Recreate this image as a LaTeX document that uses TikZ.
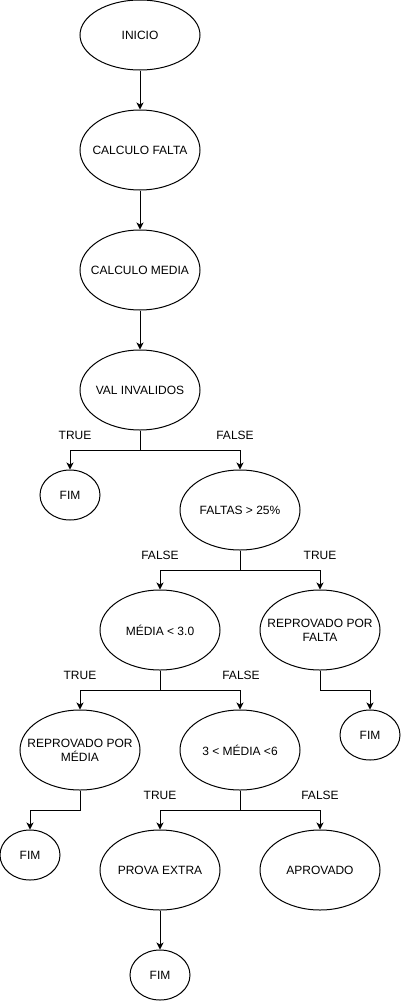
\documentclass[tikz,border=0pt]{standalone}
\usepackage{fontspec}
\setmainfont{Liberation Sans}
\usetikzlibrary{shapes.geometric,arrows.meta}
\begin{document}
\begin{tikzpicture}[x=1pt,y=-1pt,
  every node/.style={font=\fontsize{12}{14}\selectfont},
  proc/.style={ellipse,draw,line width=1pt,inner xsep=-16pt,inner ysep=0pt,minimum width=120pt,minimum height=80pt,align=center},
  endnode/.style={ellipse,draw,line width=1pt,inner sep=0pt,minimum width=60pt,minimum height=50pt,align=center},
  lbl/.style={inner sep=0pt,anchor=center},
  conn/.style={line width=1pt,-{Stealth[length=7pt,width=7pt,inset=2pt]}},
  plain/.style={line width=1pt}]
\useasboundingbox (0,0) rectangle (401,1001);
\node[proc,minimum height=70pt] (ini) at (140,35) {INICIO};
\node[proc] (cf) at (140,150) {CALCULO FALTA};
\node[proc] (cm) at (140,270) {CALCULO MEDIA};
\node[proc] (vi) at (140,390) {VAL INVALIDOS};
\node[endnode] (fim1) at (70,495) {FIM};
\node[proc] (f25) at (240,510) {FALTAS > 25\%};
\node[proc] (m3) at (160,630) {MÉDIA < 3.0};
\node[proc] (rpf) at (320,630) {REPROVADO POR\\FALTA};
\node[endnode] (fim2) at (370,735) {FIM};
\node[proc] (rpm) at (80,750) {REPROVADO POR\\MÉDIA};
\node[proc] (m36) at (240,750) {3 < MÉDIA <6};
\node[endnode] (fim3) at (30,855) {FIM};
\node[proc] (pe) at (160,870) {PROVA EXTRA};
\node[proc] (apr) at (320,870) {APROVADO};
\node[endnode] (fim4) at (160,975) {FIM};

\node[lbl] (t1) at (75,435) {TRUE};
\node[lbl] (f1) at (235,435) {FALSE};
\node[lbl] (f2) at (160,555) {FALSE};
\node[lbl] (t2) at (320,555) {TRUE};
\node[lbl] (t3) at (80,675) {TRUE};
\node[lbl] (f3) at (241,675) {FALSE};
\node[lbl] (t4) at (160,795) {TRUE};
\node[lbl] (f4) at (320,795) {FALSE};

\draw[conn] (ini) -- (cf);
\draw[conn] (cf) -- (cm);
\draw[conn] (cm) -- (vi);
\draw[conn] (vi.south) -- ++(0,20) -| (fim1.north);
\draw[conn] (vi.south) -- ++(0,20) -| (f25.north);
\draw[conn] (f25.south) -- ++(0,20) -| (m3.north);
\draw[conn] (f25.south) -- ++(0,20) -| (rpf.north);
\draw[conn] (m3.south) -- ++(0,20) -| (rpm.north);
\draw[conn] (m3.south) -- ++(0,20) -| (m36.north);
\draw[conn] (rpf.south) -- ++(0,20) -| (fim2.north);
\draw[conn] (rpm.south) -- ++(0,20) -| (fim3.north);
\draw[conn] (m36.south) -- ++(0,20) -| (pe.north);
\draw[conn] (m36.south) -- ++(0,20) -| (apr.north);
\draw[conn] (pe) -- (fim4);
\end{tikzpicture}
\end{document}
